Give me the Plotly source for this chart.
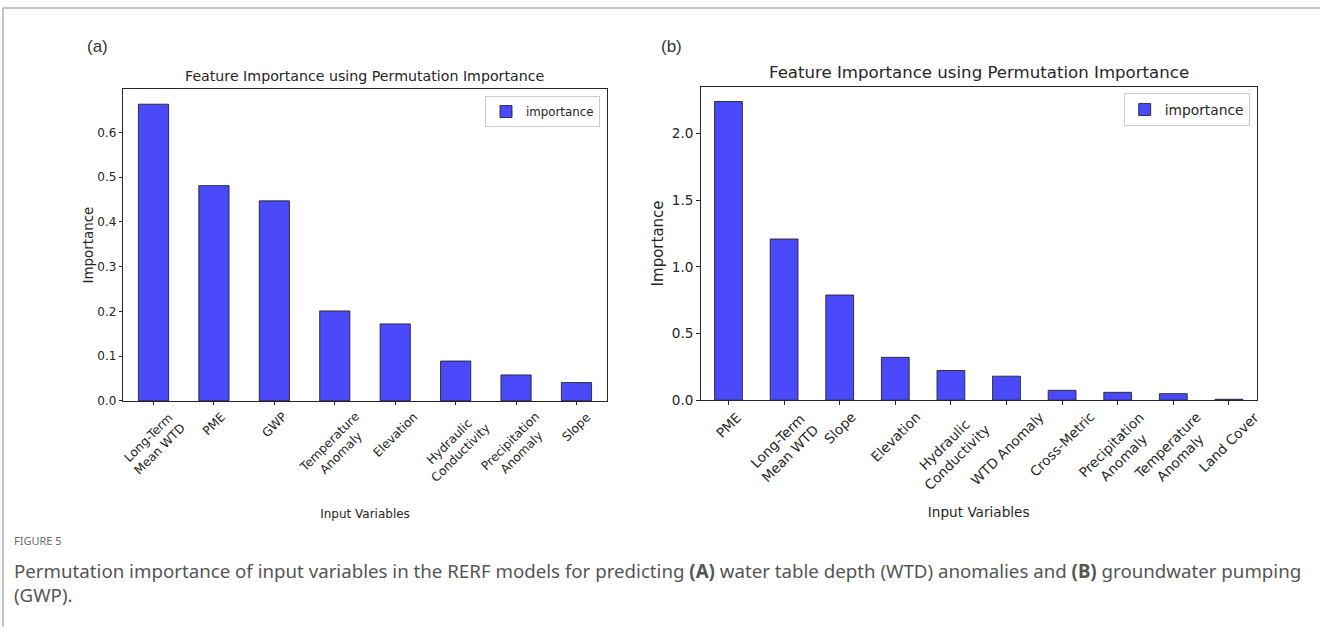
import plotly.graph_objects as go

# Panel (a): permutation importance for WTD anomalies
categories_a = ["Long-Term<br>Mean WTD", "PME", "GWP", "Temperature<br>Anomaly",
                "Elevation", "Hydraulic<br>Conductivity", "Precipitation<br>Anomaly", "Slope"]
importance_a = [0.663, 0.481, 0.447, 0.201, 0.172, 0.089, 0.058, 0.041]
yticks_a = [0.0, 0.1, 0.2, 0.3, 0.4, 0.5, 0.6]

# Panel (b): permutation importance for groundwater pumping
categories_b = ["PME", "Long-Term<br>Mean WTD", "Slope", "Elevation", "Hydraulic<br>Conductivity",
                "WTD Anomaly", "Cross-Metric", "Precipitation<br>Anomaly", "Temperature<br>Anomaly",
                "Land Cover"]
importance_b = [2.238, 1.208, 0.788, 0.321, 0.222, 0.180, 0.074, 0.059, 0.049, 0.007]
yticks_b = [0.0, 0.5, 1.0, 1.5, 2.0]

W, H = 1320, 635
BAR_FILL = "#4a4afb"
BAR_EDGE = "rgba(30,30,30,0.85)"
TXT = "#262626"
MPL_FONT = "DejaVu Sans"


def px_x(p):
    return p / W


def px_y(p):
    return 1 - p / H


fig = go.Figure()

fig.add_trace(go.Bar(
    x=categories_a, y=importance_a, name="importance", xaxis="x", yaxis="y",
    marker=dict(color=BAR_FILL, line=dict(color=BAR_EDGE, width=1)),
    legend="legend", showlegend=True,
))
fig.add_trace(go.Bar(
    x=categories_b, y=importance_b, name="importance", xaxis="x2", yaxis="y2",
    marker=dict(color=BAR_FILL, line=dict(color=BAR_EDGE, width=1)),
    legend="legend2", showlegend=True,
))

# axes geometry in pixels
ax_a = dict(left=123.3, right=606.7, top=90.5, bottom=406.0)
ax_b = dict(left=700.7, right=1256.7, top=87.7, bottom=405.3)


def x_axis(geom, cats, anchor, size, standoff):
    return dict(
        domain=[px_x(geom["left"]), px_x(geom["right"])], anchor=anchor,
        type="category", categoryorder="array", categoryarray=cats,
        range=[-0.5, len(cats) - 0.5],
        showline=True, mirror=True, linecolor="#262626", linewidth=1,
        ticks="outside", ticklen=3.5, tickwidth=1, tickcolor="#262626",
        showticklabels=False, showgrid=False, zeroline=False,
        title=dict(text="Input Variables", font=dict(family=MPL_FONT, size=size, color=TXT),
                   standoff=standoff),
        automargin=True,
    )


def y_axis(geom, vals, ticks, anchor, size, title_size, standoff):
    return dict(
        domain=[px_y(geom["bottom"]), px_y(geom["top"])], anchor=anchor,
        range=[0, max(vals) * 1.05],
        tickvals=ticks, tickformat=".1f",
        showline=True, mirror=True, linecolor="#262626", linewidth=1,
        ticks="outside", ticklen=3.5, tickwidth=1, tickcolor="#262626",
        tickfont=dict(family=MPL_FONT, size=size, color=TXT),
        showgrid=False, zeroline=False,
        title=dict(text="Importance", font=dict(family=MPL_FONT, size=title_size, color=TXT),
                   standoff=standoff),
        automargin=True,
    )


fig.update_layout(
    width=W, height=H, margin=dict(l=0, r=0, t=0, b=0),
    paper_bgcolor="white", plot_bgcolor="white",
    bargap=0.5, showlegend=True,
    xaxis=x_axis(ax_a, categories_a, "y", 12.0, 105),
    yaxis=y_axis(ax_a, importance_a, yticks_a, "x", 12.0, 13.4, 0),
    xaxis2=x_axis(ax_b, categories_b, "y2", 13.6, 103),
    yaxis2=y_axis(ax_b, importance_b, yticks_b, "x2", 13.6, 15.0, 4),
    legend=dict(x=px_x(600), y=px_y(97.3), xanchor="right", yanchor="top",
                bgcolor="white", bordercolor="#cccccc", borderwidth=1,
                font=dict(family=MPL_FONT, size=11.8, color=TXT)),
    legend2=dict(x=px_x(1249.7), y=px_y(94.3), xanchor="right", yanchor="top",
                 bgcolor="white", bordercolor="#cccccc", borderwidth=1,
                 font=dict(family=MPL_FONT, size=13.8, color=TXT)),
)

annotations = []

# rotated category labels, centred under each tick
for cats, xref, ybase, size in ((categories_a, "x", ax_a["bottom"] + 6.0, 12.2),
                                (categories_b, "x2", ax_b["bottom"] + 6.0, 13.6)):
    for c in cats:
        annotations.append(dict(
            x=c, xref=xref, y=px_y(ybase), yref="paper",
            text=c, textangle=-45, showarrow=False,
            xanchor="center", yanchor="top", align="center",
            font=dict(family=MPL_FONT, size=size, color=TXT),
        ))

# subplot titles
annotations.append(dict(x=px_x((ax_a["left"] + ax_a["right"]) / 2), y=px_y(76.5), xref="paper", yref="paper",
                        text="Feature Importance using Permutation Importance", showarrow=False,
                        xanchor="center", yanchor="middle",
                        font=dict(family=MPL_FONT, size=14.2, color=TXT)))
annotations.append(dict(x=px_x((ax_b["left"] + ax_b["right"]) / 2), y=px_y(73.5), xref="paper", yref="paper",
                        text="Feature Importance using Permutation Importance", showarrow=False,
                        xanchor="center", yanchor="middle",
                        font=dict(family=MPL_FONT, size=16.6, color=TXT)))

# panel letters
annotations.append(dict(x=px_x(97), y=px_y(47), xref="paper", yref="paper", text="(a)",
                        showarrow=False, xanchor="center", yanchor="middle",
                        font=dict(family="Liberation Sans", size=17, color="#333333")))
annotations.append(dict(x=px_x(672), y=px_y(47), xref="paper", yref="paper", text="(b)",
                        showarrow=False, xanchor="center", yanchor="middle",
                        font=dict(family="Liberation Sans", size=17, color="#333333")))

# figure caption
annotations.append(dict(x=px_x(12), y=px_y(547), xref="paper", yref="paper", text="FIGURE 5",
                        showarrow=False, xanchor="left", yanchor="middle",
                        font=dict(family="Noto Sans", size=11, color="#6b6b6b")))
annotations.append(dict(
    x=px_x(12), y=px_y(563), xref="paper", yref="paper",
    text=("Permutation importance of input variables in the RERF models for predicting <b>(A)</b> "
          "water table depth (WTD) anomalies and <b>(B)</b> groundwater pumping<br>(GWP)."),
    showarrow=False, xanchor="left", yanchor="top", align="left",
    font=dict(family="Noto Sans", size=18.7, color="#555555"),
))

fig.update_layout(annotations=annotations)

# outer frame lines of the figure panel
fig.add_shape(type="line", xref="paper", yref="paper", x0=px_x(3), x1=1, y0=px_y(8), y1=px_y(8),
              line=dict(color="#b0b0b0", width=1.5))
fig.add_shape(type="line", xref="paper", yref="paper", x0=px_x(3), x1=px_x(3), y0=0, y1=px_y(8),
              line=dict(color="#b0b0b0", width=1.5))

fig.write_html("out.html")
